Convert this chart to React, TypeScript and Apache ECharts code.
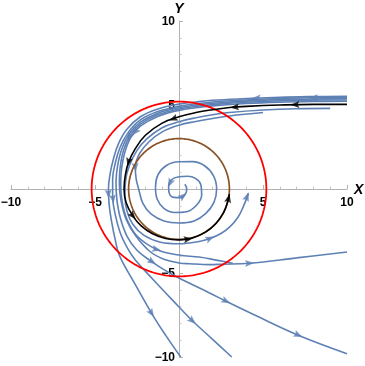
import React, { useEffect, useRef } from 'react';
import * as echarts from 'echarts';

// ---- values (data units) ----
const axisMin = -10;
const axisMax = 10;
const majorStep = 5;

const redCircleRadius = 5.2;
const brownCircleRadius = 3.0;

// stream lines (flow runs from first to last point)
const stream1 = [[10,5.52],[8,5.5],[6,5.46],[4,5.38],[2,5.28],[1,5.18],[0,5.05],[-1.3,4.75],[-2.3,4.3],[-3.1,3.55],[-3.6,2.7],[-3.9,1.8],[-4.1,0.9],[-4.2,0],[-4.15,-1.0],[-4.0,-2.0],[-3.8,-3.0],[-3.55,-3.95],[-2.65,-5.6],[-1.63,-7.4],[-0.8,-8.7],[0.1,-10]];
const stream2 = [[10,5.44],[8,5.43],[6,5.39],[4,5.3],[2,5.18],[1,5.07],[0,4.92],[-1.3,4.6],[-2.3,4.12],[-3.0,3.4],[-3.5,2.5],[-3.8,1.5],[-3.95,0.6],[-3.95,-0.4],[-3.8,-1.5],[-3.5,-2.6],[-3.05,-3.55],[-2.6,-4.23],[-1.53,-5.4],[-0.4,-6.6],[0.75,-7.8],[2.0,-8.95],[3.14,-10]];
const stream3 = [[10,5.37],[8,5.36],[6,5.32],[4,5.23],[2,5.1],[1,4.99],[0,4.84],[-1.3,4.5],[-2.3,3.98],[-2.95,3.3],[-3.4,2.4],[-3.65,1.4],[-3.75,0.4],[-3.7,-0.6],[-3.5,-1.7],[-3.1,-2.8],[-2.5,-3.65],[-1.73,-4.25],[-0.9,-4.8],[0,-5.3],[1.85,-6.2],[2.8,-6.68],[4.5,-7.5],[7.1,-8.7],[10,-9.8]];
const stream4 = [[10,5.3],[8,5.29],[6,5.25],[4,5.16],[2,5.02],[1,4.91],[0,4.76],[-1.3,4.4],[-2.3,3.86],[-2.9,3.2],[-3.3,2.3],[-3.5,1.3],[-3.55,0.3],[-3.45,-0.7],[-3.15,-1.8],[-2.6,-2.75],[-1.73,-3.72],[-0.9,-4.18],[0,-4.4],[0.65,-4.45],[1.85,-4.5],[2.54,-4.48],[4.2,-4.42],[7,-4.1],[10,-3.75]];
const stream5 = [[10,5.22],[8,5.21],[6,5.17],[4,5.09],[2,4.95],[1,4.84],[0,4.68],[-1.3,4.3],[-2.3,3.74],[-2.85,3.1],[-3.22,2.2],[-3.42,1.2],[-3.47,0.2],[-3.38,-0.8],[-3.08,-1.85],[-2.5,-2.8],[-1.33,-3.6],[0,-3.93],[1.2,-4.05],[2.3,-4.25],[3.2,-4.42]];
const stream6 = [[9,4.8],[7,4.78],[5,4.7],[3,4.55],[2,4.42],[1,4.24],[0,4.0],[-1,3.65],[-1.9,3.0],[-2.5,2.3],[-2.95,1.4],[-3.18,0.5],[-3.22,-0.4],[-3.1,-1.3],[-2.75,-2.1],[-2.1,-2.75],[-1.1,-3.17],[0,-3.26],[1.05,-3.15],[1.85,-2.94],[2.5,-2.65],[3.04,-2.24],[3.5,-1.7],[3.83,-1.05],[4.13,-0.26]];
const spiralStream = [[5,4.55],[3,4.35],[2,4.2],[1,4.02],[0,3.8],[-1,3.4],[-1.8,2.8],[-2.35,2.1],[-2.6,1.3],[-2.55,0.6],[-2.4,0],[-2.15,-0.85],[-1.65,-1.5],[-0.9,-1.9],[0,-2.02],[0.9,-1.9],[1.6,-1.45],[2.08,-0.8],[2.24,0],[2.05,0.8],[1.5,1.4],[0.8,1.63],[0,1.62],[-0.75,1.4],[-1.25,0.85],[-1.4,0.1],[-1.3,-0.6],[-0.9,-1.15],[-0.25,-1.4],[0.45,-1.35],[1.05,-0.95],[1.35,-0.35],[1.3,0.25],[1.0,0.62],[0.5,0.76],[0,0.73],[-0.45,0.55],[-0.62,0.15],[-0.58,-0.25],[-0.3,-0.5],[0.1,-0.52],[0.38,-0.3],[0.46,0.0],[0.35,0.28]];
const blackPath = [[10,5.04],[8,5.04],[6,5.0],[4,4.92],[3,4.85],[2,4.72],[1,4.55],[0,4.3],[-1,3.92],[-2,3.2],[-2.6,2.4],[-3.0,1.6],[-3.2,0.8],[-3.27,0],[-3.15,-0.8],[-2.75,-1.6],[-2.25,-2.2],[-1.6,-2.65],[-0.8,-2.95],[0,-3.03],[0.8,-2.92],[1.6,-2.55],[2.2,-2.05],[2.65,-1.4],[2.9,-0.75],[3.0,-0.3]];

// arrow-head positions on each line
const arrows1 = [[4.6,5.41],[-4.2,-0.3],[-1.63,-7.4]];
const arrows2 = [[8.0,5.43],[-3.93,-0.6],[0.8,-7.85]];
const arrows3 = [[-1.6,-4.33],[2.8,-6.68],[7.1,-8.7]];
const arrows4 = [[-2.95,3.1],[4.2,-4.42]];
const arrows5 = [[-2.6,3.4],[-1.33,-3.6]];
const arrows6 = [[1.85,-2.94],[4.05,-0.45]];
const arrowsSpiral = [[-2.6,1.3],[-0.53,0.35],[0.24,-0.42]];
const arrowsBlack = [[6.9,5.02],[3.3,4.87],[-0.35,4.17],[-3.0,1.6],[-2.75,-1.6],[0.55,-2.98],[2.95,-0.55]];

const BLUE = '#5e81b5';
const RED = '#ff0000';
const BROWN = '#8a5224';
const FONT = '"Liberation Sans", Arial, sans-serif';

const GRID = { left: 11, right: 18, top: 21, bottom: 9 };
const W = 365;
const H = 366;

function circlePoints(r: number) {
  const pts: number[][] = [];
  for (let i = 0; i <= 240; i++) {
    const t = (i / 240) * Math.PI * 2;
    pts.push([r * Math.cos(t), r * Math.sin(t)]);
  }
  return pts;
}

function arrowData(line: number[][], marks: number[][]) {
  return marks.map(([x, y]) => {
    let best = 0;
    let bestD = Infinity;
    for (let i = 0; i < line.length - 1; i++) {
      const mx = (line[i][0] + line[i + 1][0]) / 2;
      const my = (line[i][1] + line[i + 1][1]) / 2;
      const d = (mx - x) ** 2 + (my - y) ** 2;
      if (d < bestD) { bestD = d; best = i; }
    }
    const a = line[best], b = line[best + 1];
    const ang = (Math.atan2(b[1] - a[1], b[0] - a[0]) * 180) / Math.PI;
    return [x, y, ang - 90];
  });
}

const ARROW = 'path://M5,0L10,13L5,10.5L0,13Z';

function fmt(v: number) {
  if (v === 0) return '';
  return v < 0 ? '\u2212' + Math.abs(v) : String(v);
}

export default function App() {
  const ref = useRef<HTMLDivElement>(null);
  useEffect(() => {
    if (!ref.current) return;
    const chart = echarts.init(ref.current, undefined, { renderer: 'svg' });
    const streams = [stream1, stream2, stream3, stream4, stream5, stream6, spiralStream];
    const streamArrows = [arrows1, arrows2, arrows3, arrows4, arrows5, arrows6, arrowsSpiral];
    const lineSeries = (data: number[][], color: string, z: number, width = 1.6, smooth = 0.4) => ({
      type: 'line', data, showSymbol: false, smooth, silent: true, z,
      lineStyle: { color, width }, clip: false,
    });
    const arrowSeries = (data: number[][], color: string, z: number) => ({
      type: 'scatter', data, symbol: ARROW, symbolSize: [7, 9], silent: true, z,
      symbolRotate: (v: number[]) => v[2],
      itemStyle: { color },
    });
    const blueArrowData: number[][] = [];
    streams.forEach((s, i) => blueArrowData.push(...arrowData(s, streamArrows[i])));
    const plotW = W - GRID.left - GRID.right;
    const plotH = H - GRID.top - GRID.bottom;
    const axisCommon = {
      type: 'value', min: axisMin, max: axisMax, interval: majorStep,
      axisLine: { onZero: false, lineStyle: { color: '#b3b3b3', width: 1 } },
      axisTick: { inside: true, length: 4, lineStyle: { color: '#b3b3b3' } },
      minorTick: { show: true, splitNumber: 5, length: 2.5, lineStyle: { color: '#c4c4c4' } },
      splitLine: { show: false },
      nameTextStyle: { fontStyle: 'italic', fontWeight: 'bold', fontSize: 14, fontFamily: FONT, color: '#000' },
    };
    chart.setOption({
      animation: false,
      grid: { ...GRID, containLabel: false, outerBoundsMode: 'none' },
      xAxis: {
        ...axisCommon,
        position: 'bottom',
        offset: -plotH / 2,
        name: 'X', nameLocation: 'end', nameGap: 7,
        axisLabel: { formatter: fmt, fontSize: 12, fontWeight: 'bold', fontFamily: FONT, color: '#000', margin: 7 },
      },
      yAxis: {
        ...axisCommon,
        position: 'left',
        offset: -plotW / 2,
        name: 'Y', nameLocation: 'end', nameGap: 5,
        axisLabel: { formatter: fmt, fontSize: 12, fontWeight: 'bold', fontFamily: FONT, color: '#000', margin: 4 },
      },
      series: [
        ...streams.map((s) => lineSeries(s, BLUE, 2)),
        arrowSeries(blueArrowData, BLUE, 3),
        lineSeries(circlePoints(redCircleRadius), RED, 4, 1.8, 0),
        lineSeries(circlePoints(brownCircleRadius), BROWN, 5, 1.7, 0),
        lineSeries(blackPath, '#000', 6, 1.6),
        arrowSeries(arrowData(blackPath, arrowsBlack), '#000', 7),
      ],
    });
    return () => chart.dispose();
  }, []);
  return <div ref={ref} style={{ position: 'fixed', left: 0, top: 0, width: W, height: H }} />;
}
